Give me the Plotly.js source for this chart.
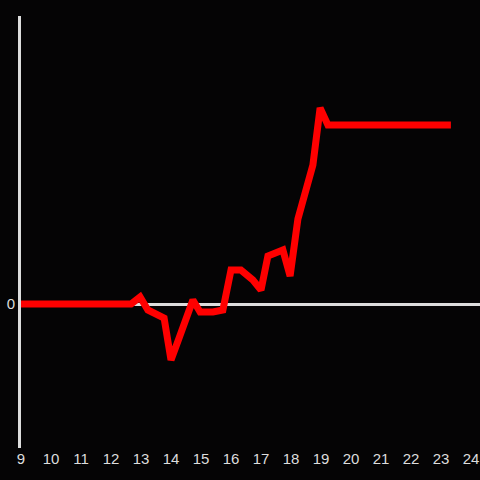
<!DOCTYPE html>
<html>
<head>
<meta charset="utf-8">
<script src="https://cdn.plot.ly/plotly-3.0.1.min.js"></script>
<style>html,body{margin:0;padding:0;background:#050405;}#chart{width:480px;height:480px;}</style>
</head>
<body>
<div id="chart"></div>
<script>
const xValues = [9, 12.67, 12.97, 13.23, 13.77, 14.0, 14.27, 14.73, 14.97, 15.4, 15.73, 16.0, 16.33, 16.73, 17.0, 17.23, 17.73, 17.97, 18.23, 18.73, 18.97, 19.23, 23.33];
const yValues = [0, 0, 7, -6, -14, -56, -34, 4, -8, -8, -6, 34, 34, 24, 14, 48, 54, 28, 85, 139, 196, 179, 179];
const xTicks = [9, 10, 11, 12, 13, 14, 15, 16, 17, 18, 19, 20, 21, 22, 23, 24];
const yTicks = [0];

const axisColor = '#dddddd';
Plotly.newPlot('chart', [{
  x: xValues, y: yValues, type: 'scatter', mode: 'lines',
  line: {color: '#ff0000', width: 7}, hoverinfo: 'skip'
}], {
  width: 480, height: 480,
  margin: {l: 21, r: 0, t: 16, b: 32},
  paper_bgcolor: '#050405', plot_bgcolor: '#050405',
  showlegend: false,
  font: {family: 'Liberation Sans, Arial, sans-serif', size: 15, color: axisColor},
  xaxis: {range: [9, 24.3], tickvals: xTicks, ticktext: xTicks.map(String),
    showgrid: false, zeroline: false, showline: false, ticks: '', ticklen: 0, fixedrange: true},
  yaxis: {range: [-144, 288], tickvals: yTicks, ticktext: yTicks.map(String),
    showgrid: false, zeroline: true, zerolinecolor: axisColor, zerolinewidth: 3,
    showline: true, linecolor: axisColor, linewidth: 3, ticks: '', fixedrange: true}
}, {displayModeBar: false, staticPlot: true});
</script>
</body>
</html>
